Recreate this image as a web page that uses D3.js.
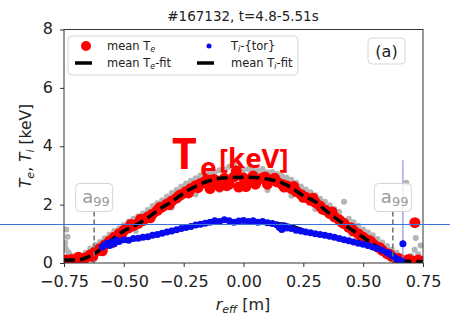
<!DOCTYPE html>
<html>
<head>
<meta charset="utf-8">
<script src="https://cdn.jsdelivr.net/npm/d3@7"></script>
<style>
  body { margin: 0; background: #fff; }
  svg { display: block; font-family: "DejaVu Sans", sans-serif; }
</style>
</head>
<body>
<div id="wrapper"></div>
<script>
// radius r_eff [m] and temperature [keV]
const teGray = [
  [-0.745, 0.55], [-0.74, 0.45], [-0.735, 0.9], [-0.74, 1.15], [-0.73, 0.35], [-0.745, 0.7], [-0.72, 0.25],
  [-0.66, 0.35], [-0.64, 0.5], [-0.62, 0.62], [-0.6, 0.72], [-0.58, 0.85], [-0.56, 0.98], [-0.54, 1.1],
  [-0.52, 1.18], [-0.5, 1.3], [-0.48, 1.42], [-0.46, 1.52], [-0.44, 1.6], [-0.42, 1.7], [-0.4, 1.82],
  [-0.38, 1.95], [-0.36, 2.05], [-0.34, 2.15], [-0.32, 2.28], [-0.3, 2.4], [-0.28, 2.5], [-0.26, 2.62],
  [-0.24, 2.72], [-0.22, 2.82], [-0.2, 2.9], [-0.18, 3.0], [-0.16, 3.05], [-0.14, 3.1], [-0.12, 3.12],
  [-0.1, 3.18], [-0.08, 3.2], [-0.06, 3.3], [-0.04, 3.38], [-0.02, 3.25], [0.0, 3.2], [0.02, 3.22],
  [0.04, 3.18], [0.06, 3.15], [0.08, 3.22], [0.1, 3.1], [0.12, 3.12], [0.14, 3.05], [0.16, 2.98],
  [0.18, 2.92], [0.2, 2.85], [0.22, 2.75], [0.24, 2.62], [0.26, 2.52], [0.28, 2.42], [0.3, 2.32],
  [0.32, 2.2], [0.34, 2.1], [0.36, 1.98], [0.38, 1.85], [0.4, 1.75], [0.42, 2.1], [0.44, 1.52],
  [0.46, 1.4], [0.48, 1.28], [0.5, 1.15], [0.52, 1.05], [0.54, 0.95], [0.56, 0.82], [0.58, 0.7],
  [0.6, 0.58], [0.62, 0.45], [0.64, 0.35], [0.68, 2.75], [0.7, 0.25], [0.72, 0.86], [0.715, 0.45],
  [0.73, 0.3], [0.74, 0.6], [-0.45, 1.1], [-0.3, 1.9], [-0.1, 2.5], [0.1, 2.5], [0.3, 1.85],
  [0.45, 1.0], [0.55, 0.5], [-0.55, 0.6], [-0.2, 2.35], [0.2, 2.3]
]

const teMean = [
  [-0.74, 0.1], [-0.72, 0.12], [-0.7, 0.11], [-0.68, 0.14], [-0.66, 0.18], [-0.64, 0.28], [-0.62, 0.38],
  [-0.6, 0.5], [-0.58, 0.62], [-0.56, 0.75], [-0.54, 0.88], [-0.52, 1.0], [-0.5, 1.12], [-0.48, 1.2],
  [-0.46, 1.28], [-0.44, 1.36], [-0.42, 1.45], [-0.4, 1.58], [-0.38, 1.68], [-0.36, 1.8], [-0.34, 1.92],
  [-0.32, 2.02], [-0.3, 2.12], [-0.28, 2.22], [-0.26, 2.35], [-0.24, 2.45], [-0.22, 2.55], [-0.2, 2.65],
  [-0.18, 2.72], [-0.16, 2.8], [-0.14, 2.55], [-0.12, 2.85], [-0.1, 2.62], [-0.08, 2.9], [-0.06, 2.7],
  [-0.04, 2.95], [-0.02, 2.6], [0.0, 2.92], [0.02, 2.75], [0.04, 2.98], [0.06, 2.85], [0.08, 2.92],
  [0.1, 2.7], [0.12, 2.85], [0.14, 2.78], [0.16, 2.7], [0.18, 2.65], [0.2, 2.55], [0.22, 2.45],
  [0.24, 2.35], [0.26, 2.25], [0.28, 2.15], [0.3, 2.08], [0.32, 1.95], [0.34, 1.82], [0.36, 1.7],
  [0.38, 1.58], [0.4, 1.48], [0.42, 1.35], [0.44, 1.22], [0.46, 1.1], [0.48, 1.0], [0.5, 0.88],
  [0.52, 0.78], [0.54, 0.66], [0.56, 0.55], [0.58, 0.43], [0.6, 0.32], [0.62, 0.22], [0.64, 0.14],
  [0.66, 0.1], [0.68, 0.08], [0.7, 0.08], [0.72, 0.06], [0.74, 0.06],
  [-0.69, 0.2], [-0.63, 0.22], [-0.59, 0.42], [-0.55, 0.7], [-0.51, 0.95], [-0.47, 1.32], [-0.43, 1.5],
  [-0.39, 1.55], [-0.35, 1.9], [-0.31, 2.0], [-0.27, 2.3], [-0.23, 2.4], [-0.19, 2.58], [-0.15, 2.72],
  [-0.11, 2.75], [-0.07, 2.65], [-0.03, 3.15], [0.01, 2.62], [0.05, 2.7], [0.09, 2.95], [0.13, 2.9],
  [0.17, 2.6], [0.21, 2.62], [0.25, 2.25], [0.29, 2.22], [0.33, 1.85], [0.37, 1.75], [0.41, 1.4],
  [0.45, 1.2], [0.49, 0.92], [0.53, 0.75], [0.57, 0.52], [0.61, 0.3], [0.65, 0.15], [0.69, 0.12],
  [0.73, 0.1], [0.716, 1.38]
]

const teFitR = [-0.75, -0.7, -0.65, -0.6, -0.55, -0.5, -0.45, -0.4, -0.35, -0.3, -0.25, -0.2, -0.15, -0.1, -0.05,
  0, 0.05, 0.1, 0.15, 0.2, 0.25, 0.3, 0.35, 0.4, 0.45, 0.5, 0.55, 0.6, 0.65, 0.7, 0.75]
const teFitT = [0.1, 0.1, 0.2, 0.45, 0.8, 1.1, 1.3, 1.55, 1.85, 2.1, 2.4, 2.62, 2.8, 2.9, 2.93,
  2.94, 2.93, 2.88, 2.78, 2.58, 2.3, 2.1, 1.75, 1.45, 1.15, 0.88, 0.6, 0.32, 0.1, 0.05, 0.05]

const tiTor = [
  [-0.59, 0.55], [-0.58, 0.62], [-0.57, 0.68], [-0.56, 0.6], [-0.55, 0.72], [-0.54, 0.66], [-0.53, 0.78],
  [-0.52, 0.74], [-0.5, 0.8], [-0.48, 0.78], [-0.46, 0.84], [-0.44, 0.85], [-0.42, 0.88], [-0.4, 0.9],
  [-0.38, 0.95], [-0.36, 0.98], [-0.34, 1.02], [-0.32, 1.06], [-0.3, 1.1], [-0.28, 1.14], [-0.26, 1.18],
  [-0.24, 1.22], [-0.22, 1.25], [-0.2, 1.3], [-0.18, 1.33], [-0.16, 1.36], [-0.14, 1.4], [-0.12, 1.45],
  [-0.1, 1.42], [-0.08, 1.48], [-0.06, 1.45], [-0.04, 1.4], [-0.02, 1.44], [0.0, 1.46], [0.02, 1.42],
  [0.04, 1.45], [0.06, 1.4], [0.08, 1.42], [0.1, 1.38], [0.12, 1.35], [0.14, 1.3], [0.15, 1.22],
  [0.16, 1.15], [0.17, 1.28], [0.18, 1.2], [0.2, 1.18], [0.22, 1.12], [0.24, 1.1], [0.26, 1.06],
  [0.28, 1.04], [0.3, 1.0], [0.32, 0.98], [0.34, 0.95], [0.36, 0.92], [0.38, 0.88], [0.4, 0.84],
  [0.42, 0.8], [0.44, 0.76], [0.46, 0.72], [0.48, 0.68], [0.5, 0.64], [0.52, 0.6], [0.54, 0.55],
  [0.56, 0.5], [0.58, 0.44], [0.6, 0.36], [0.61, 0.32], [0.62, 0.26], [0.63, 0.2], [0.64, 0.14],
  [0.65, 0.1], [0.66, 0.06], [0.666, 0.66]
]
// error bar of the outlying Ti point: r, low, high
const tiErr = [[0.666, 0.0, 3.52]]

const tiFitR = [-0.6, -0.55, -0.5, -0.45, -0.4, -0.35, -0.3, -0.25, -0.2, -0.15, -0.1, -0.05, 0,
  0.05, 0.1, 0.15, 0.2, 0.25, 0.3, 0.35, 0.4, 0.45, 0.5, 0.55, 0.6, 0.65]
const tiFitT = [0.55, 0.68, 0.78, 0.85, 0.93, 1.02, 1.12, 1.22, 1.32, 1.38, 1.42, 1.44, 1.44,
  1.43, 1.41, 1.38, 1.3, 1.16, 1.02, 0.93, 0.84, 0.74, 0.64, 0.53, 0.38, 0.12]

const a99 = [-0.624, 0.624]
const xTicks = [-0.75, -0.5, -0.25, 0, 0.25, 0.5, 0.75]
const yTicks = [0, 2, 4, 6, 8]

function drawChart() {
  const dimensions = {
    width: 450,
    height: 326,
    margin: { top: 29.5, right: 27, bottom: 63, left: 64 }
  }
  dimensions.boundedWidth = dimensions.width - dimensions.margin.left - dimensions.margin.right
  dimensions.boundedHeight = dimensions.height - dimensions.margin.top - dimensions.margin.bottom

  const wrapper = d3.select('#wrapper')
    .append('svg')
      .attr('width', dimensions.width)
      .attr('height', dimensions.height)

  const bounds = wrapper.append('g')
    .attr('transform', `translate(${dimensions.margin.left}, ${dimensions.margin.top})`)

  const xScale = d3.scaleLinear()
    .domain([-0.75, 0.75])
    .range([0, dimensions.boundedWidth])
  const yScale = d3.scaleLinear()
    .domain([0, 8])
    .range([dimensions.boundedHeight, 0])

  bounds.append('clipPath').attr('id', 'plot-clip')
    .append('rect')
      .attr('width', dimensions.boundedWidth)
      .attr('height', dimensions.boundedHeight)
  const plot = bounds.append('g').attr('clip-path', 'url(#plot-clip)')

  // measured points
  plot.append('g').selectAll('circle')
    .data(teGray)
    .join('circle')
      .attr('cx', d => xScale(d[0]))
      .attr('cy', d => yScale(d[1]))
      .attr('r', 3)
      .attr('fill', '#b4b4b4')

  plot.append('g').selectAll('circle')
    .data(teMean)
    .join('circle')
      .attr('cx', d => xScale(d[0]))
      .attr('cy', d => yScale(d[1]))
      .attr('r', 5.5)
      .attr('fill', '#ff0000')

  const line = d3.line()
    .x(d => xScale(d[0]))
    .y(d => yScale(d[1]))
    .curve(d3.curveMonotoneX)

  plot.append('path')
    .datum(d3.zip(teFitR, teFitT))
    .attr('d', line)
    .attr('fill', 'none')
    .attr('stroke', '#000')
    .attr('stroke-width', 3.5)
    .attr('stroke-dasharray', '11,5')

  plot.append('g').selectAll('line')
    .data(tiErr)
    .join('line')
      .attr('x1', d => xScale(d[0]))
      .attr('x2', d => xScale(d[0]))
      .attr('y1', d => yScale(d[1]))
      .attr('y2', d => yScale(d[2]))
      .attr('stroke', '#8f8fea')
      .attr('stroke-width', 1.2)

  plot.append('path')
    .datum(d3.zip(tiFitR, tiFitT))
    .attr('d', line)
    .attr('fill', 'none')
    .attr('stroke', '#000')
    .attr('stroke-width', 1.5)

  plot.append('g').selectAll('circle')
    .data(tiTor)
    .join('circle')
      .attr('cx', d => xScale(d[0]))
      .attr('cy', d => yScale(d[1]))
      .attr('r', 3.5)
      .attr('fill', '#0a0aee')

  // a99 markers
  const aBox = bounds.append('g').selectAll('g')
    .data(a99)
    .join('g')
      .attr('transform', d => `translate(${xScale(d)}, 0)`)
  aBox.append('line')
    .attr('y1', 182)
    .attr('y2', dimensions.boundedHeight)
    .attr('stroke', '#6e6e6e')
    .attr('stroke-width', 1.5)
    .attr('stroke-dasharray', '5,3')
  aBox.append('rect')
    .attr('x', -18.5)
    .attr('y', 154)
    .attr('width', 37)
    .attr('height', 28)
    .attr('rx', 4)
    .attr('fill', '#fff')
    .attr('fill-opacity', 0.8)
    .attr('stroke', '#d4d4d4')
  const aText = aBox.append('text')
    .attr('x', -12)
    .attr('y', 173.5)
    .attr('fill', '#9a9a9a')
    .style('font-size', '18px')
  aText.append('tspan').text('a')
  aText.append('tspan').attr('dy', 3).style('font-size', '13px').text('99')

  // axes
  const xAxis = bounds.append('g')
    .attr('transform', `translate(0, ${dimensions.boundedHeight})`)
    .call(d3.axisBottom(xScale).tickValues(xTicks).tickSize(4).tickPadding(8.5)
      .tickFormat(d => d3.format('.2f')(d).replace('-', '\u2212')))
  const yAxis = bounds.append('g')
    .call(d3.axisLeft(yScale).tickValues(yTicks).tickSize(4).tickPadding(7))
  ;[xAxis, yAxis].forEach(ax => {
    ax.select('.domain').remove()
    ax.selectAll('line').attr('stroke', '#333')
    ax.selectAll('text')
      .attr('fill', '#222')
      .style('font-family', '"DejaVu Sans", sans-serif')
      .style('font-size', '16px')
  })
  yAxis.selectAll('text').attr('dy', '0.28em')

  bounds.append('rect')
    .attr('width', dimensions.boundedWidth)
    .attr('height', dimensions.boundedHeight)
    .attr('fill', 'none')
    .attr('stroke', '#333')
    .attr('stroke-width', 1)

  // axis labels and title
  const xLabel = wrapper.append('text')
    .attr('x', 243)
    .attr('y', 310)
    .attr('text-anchor', 'middle')
    .attr('fill', '#222')
    .style('font-size', '16px')
  xLabel.append('tspan').style('font-style', 'italic').text('r')
  xLabel.append('tspan').attr('dy', 3).style('font-style', 'italic').style('font-size', '11px').text('eff')
  xLabel.append('tspan').attr('dy', -3).text(' [m]')

  const yLabel = wrapper.append('text')
    .attr('transform', 'translate(31, 146) rotate(-90)')
    .attr('text-anchor', 'middle')
    .attr('fill', '#222')
    .style('font-size', '15.5px')
  yLabel.append('tspan').style('font-style', 'italic').text('T')
  yLabel.append('tspan').attr('dy', 3).style('font-style', 'italic').style('font-size', '11px').text('e')
  yLabel.append('tspan').attr('dy', -3).text(',  ')
  yLabel.append('tspan').style('font-style', 'italic').text('T')
  yLabel.append('tspan').attr('dy', 3).style('font-style', 'italic').style('font-size', '11px').text('i')
  yLabel.append('tspan').attr('dy', -3).text(' [keV]')

  wrapper.append('text')
    .attr('x', 243)
    .attr('y', 21)
    .attr('text-anchor', 'middle')
    .attr('fill', '#222')
    .style('font-size', '13.5px')
    .text('#167132, t=4.8-5.51s')

  // legend
  const legend = wrapper.append('g')
  legend.append('rect')
    .attr('x', 68).attr('y', 36)
    .attr('width', 230).attr('height', 39)
    .attr('rx', 4)
    .attr('fill', '#fff').attr('fill-opacity', 0.8)
    .attr('stroke', '#d6d6d6')
  const legendItems = [
    { kind: 'dot', r: 5, color: '#ff0000', x: 86, y: 46, label: ['mean T', 'e', ''] },
    { kind: 'dot', r: 2.5, color: '#0a0aee', x: 209, y: 46, label: ['T', 'i', '-{tor}'] },
    { kind: 'line', x: 75, y: 63, label: ['mean T', 'e', '-fit'] },
    { kind: 'line', x: 197, y: 63, label: ['mean T', 'i', '-fit'] }
  ]
  legendItems.forEach((item, i) => {
    if (item.kind === 'dot') {
      legend.append('circle')
        .attr('cx', item.x).attr('cy', item.y).attr('r', item.r).attr('fill', item.color)
    } else {
      legend.append('line')
        .attr('x1', item.x).attr('x2', item.x + 17)
        .attr('y1', item.y).attr('y2', item.y)
        .attr('stroke', '#000').attr('stroke-width', 3.5)
    }
    const t = legend.append('text')
      .attr('x', i % 2 === 0 ? 107 : 231)
      .attr('y', item.y + 4)
      .attr('fill', '#222')
      .style('font-size', '11.5px')
    t.append('tspan').text(item.label[0])
    t.append('tspan').attr('dy', 2).style('font-style', 'italic').style('font-size', '8px').text(item.label[1])
    t.append('tspan').attr('dy', -2).text(item.label[2])
  })

  // panel tag
  wrapper.append('rect')
    .attr('x', 368).attr('y', 38)
    .attr('width', 37).attr('height', 26)
    .attr('rx', 4)
    .attr('fill', '#fff')
    .attr('stroke', '#d6d6d6')
  wrapper.append('text')
    .attr('x', 386.5).attr('y', 57)
    .attr('text-anchor', 'middle')
    .attr('fill', '#222')
    .style('font-size', '16px')
    .text('(a)')

  // big red annotation
  const big = wrapper.append('text')
    .attr('fill', '#ff0000')
    .style('font-family', '"Noto Sans", sans-serif')
    .style('font-weight', 'bold')
  big.append('tspan').attr('x', 172).attr('y', 169).style('font-size', '43px').text('T')
  big.append('tspan').attr('x', 200).attr('y', 178).style('font-size', '28px').text('e')
  big.append('tspan').attr('x', 219).attr('y', 168).style('font-size', '27.5px').text('[keV]')

  // thin horizontal rule across the picture
  wrapper.append('line')
    .attr('x1', 0).attr('x2', dimensions.width)
    .attr('y1', 224.5).attr('y2', 224.5)
    .attr('stroke', '#3a74d6')
    .attr('stroke-width', 1)
}

drawChart()
</script>
</body>
</html>
